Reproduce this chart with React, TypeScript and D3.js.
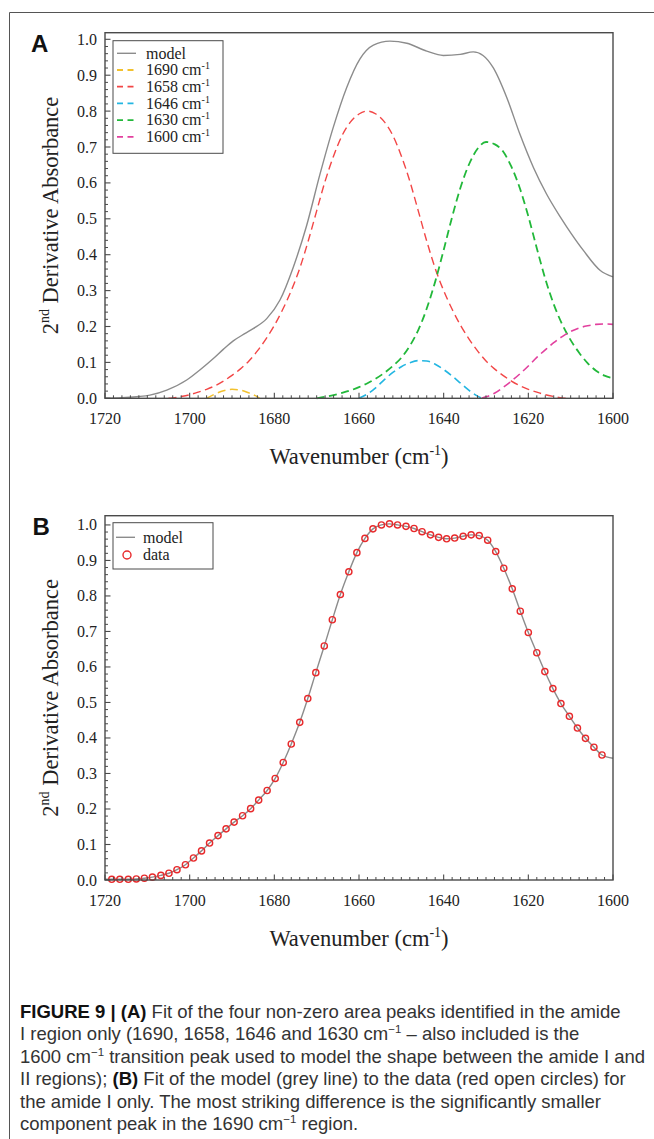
import React from 'react';
import * as d3 from 'd3';

type P = [number, number];

const X_TICKS = [1720, 1700, 1680, 1660, 1640, 1620, 1600];
const Y_TICKS = [0, 0.1, 0.2, 0.3, 0.4, 0.5, 0.6, 0.7, 0.8, 0.9, 1.0];

// Panel A: model and component peaks (wavenumber, value)
const modelA: P[] = [
  [1720, 0.0], [1716, 0.002], [1712, 0.005], [1709.4, 0.009], [1705.4, 0.023], [1700.7, 0.051],
  [1697.6, 0.079], [1694.4, 0.111], [1692, 0.137], [1689.7, 0.16], [1687, 0.18], [1685, 0.194],
  [1681.8, 0.222], [1678.7, 0.273], [1675.5, 0.366], [1672.4, 0.48], [1669.2, 0.625], [1666.1, 0.754],
  [1662.9, 0.866], [1659.8, 0.945], [1656.6, 0.984], [1652.7, 0.995], [1648.7, 0.989], [1644, 0.967],
  [1640.1, 0.955], [1636.1, 0.958], [1633, 0.965], [1630.7, 0.955], [1628.3, 0.921], [1625.1, 0.838],
  [1622, 0.736], [1618.8, 0.643], [1615.7, 0.569], [1612.5, 0.506], [1610.9, 0.477], [1607, 0.412],
  [1603, 0.356], [1600, 0.338],
];

const peak1690: P[] = [
  [1696, 0.0], [1694, 0.012], [1692, 0.021], [1690, 0.025], [1688, 0.023], [1686, 0.015], [1684, 0.004], [1683.5, 0.0],
];

const peak1658: P[] = [
  [1705, 0.0], [1704, 0.001], [1702, 0.005], [1700, 0.01], [1698, 0.017], [1696, 0.025], [1694, 0.035],
  [1692, 0.048], [1690, 0.064], [1688, 0.082], [1686, 0.104], [1684, 0.132], [1682, 0.165], [1680, 0.203],
  [1678, 0.248], [1676, 0.3], [1674, 0.362], [1672, 0.438], [1670, 0.522], [1668, 0.605], [1666, 0.675],
  [1664, 0.732], [1662, 0.77], [1660, 0.792], [1658, 0.8], [1656, 0.792], [1654, 0.77], [1652, 0.732],
  [1650, 0.675], [1648, 0.605], [1646, 0.522], [1644, 0.438], [1642, 0.362], [1640, 0.3], [1638, 0.248],
  [1636, 0.203], [1634, 0.165], [1632, 0.132], [1630, 0.104], [1628, 0.082], [1626, 0.064], [1624, 0.048],
  [1622, 0.035], [1620, 0.025], [1618, 0.017], [1616, 0.01], [1614, 0.005], [1612, 0.001], [1611, 0.0],
];

const peak1646: P[] = [
  [1660, 0.0], [1658, 0.012], [1656, 0.03], [1654, 0.052], [1652, 0.072], [1650, 0.088], [1648, 0.099],
  [1646, 0.105], [1644, 0.104], [1642, 0.095], [1640, 0.08], [1638, 0.062], [1636, 0.042], [1634, 0.022],
  [1632, 0.006], [1631, 0.0],
];

const peak1630: P[] = [
  [1670, 0.0], [1668, 0.004], [1666, 0.009], [1664, 0.015], [1662, 0.022], [1660, 0.031], [1658, 0.042],
  [1656, 0.055], [1654, 0.071], [1652, 0.09], [1650, 0.113], [1648, 0.146], [1646, 0.19], [1644, 0.25],
  [1642, 0.325], [1640, 0.413], [1638, 0.505], [1636, 0.588], [1634, 0.652], [1632, 0.695], [1630, 0.714],
  [1628, 0.708], [1626, 0.688], [1624, 0.645], [1622, 0.585], [1620, 0.507], [1618, 0.418], [1616, 0.333],
  [1614, 0.262], [1612, 0.206], [1610, 0.162], [1608, 0.127], [1606, 0.098], [1604, 0.077], [1602, 0.063],
  [1600, 0.056],
];

const peak1600: P[] = [
  [1631, 0.0], [1630, 0.004], [1628, 0.014], [1626, 0.03], [1624, 0.048], [1622, 0.068], [1620, 0.09],
  [1618, 0.114], [1616, 0.135], [1614, 0.155], [1612, 0.172], [1610, 0.186], [1608, 0.196], [1606, 0.202],
  [1604, 0.206], [1602, 0.207], [1600, 0.206],
];

// Panel B: measured data points and model
const dataWavenumbers = [
  1718.4, 1716.5, 1714.5, 1712.6, 1710.7, 1708.8, 1706.8, 1704.9, 1703.0, 1701.0, 1699.1, 1697.2,
  1695.3, 1693.3, 1691.4, 1689.5, 1687.5, 1685.6, 1683.7, 1681.7, 1679.8, 1677.9, 1676.0, 1674.0,
  1672.1, 1670.2, 1668.2, 1666.3, 1664.4, 1662.4, 1660.5, 1658.6, 1656.7, 1654.7, 1652.8, 1650.9,
  1648.9, 1647.0, 1645.1, 1643.1, 1641.2, 1639.3, 1637.4, 1635.4, 1633.5, 1631.6, 1629.6, 1627.7,
  1625.8, 1623.8, 1621.9, 1620.0, 1618.0, 1616.1, 1614.2, 1612.3, 1610.3, 1608.4, 1606.5, 1604.5,
  1602.6,
];
const dataValues = [
  0.002, 0.002, 0.002, 0.003, 0.005, 0.008, 0.013, 0.019, 0.029, 0.043, 0.062, 0.082,
  0.104, 0.125, 0.144, 0.163, 0.181, 0.201, 0.225, 0.252, 0.286, 0.331, 0.383, 0.444,
  0.511, 0.584, 0.659, 0.733, 0.804, 0.868, 0.922, 0.962, 0.989, 1.0, 1.003, 1.0,
  0.996, 0.99, 0.981, 0.972, 0.965, 0.961, 0.963, 0.968, 0.972, 0.97, 0.957, 0.925,
  0.878, 0.82, 0.757, 0.697, 0.64, 0.587, 0.539, 0.497, 0.461, 0.428, 0.399, 0.374,
  0.352,
];
const modelBStart: P = [1720, 0.002];
const modelBEnd: P = [1600, 0.343];

const legendA = [
  { label: '1690', color: '#f2c12e', data: peak1690, width: 1.5 },
  { label: '1658', color: '#f24646', data: peak1658, width: 1.4 },
  { label: '1646', color: '#23b6e2', data: peak1646, width: 1.6 },
  { label: '1630', color: '#22b83a', data: peak1630, width: 1.8 },
  { label: '1600', color: '#e2409e', data: peak1600, width: 1.6 },
];

const SERIF = "'Liberation Serif', 'Times New Roman', Times, serif";
const SANS = "'Liberation Sans', Arial, Helvetica, sans-serif";
const FRAME = '#4a4a4a';
const MODEL = '#8c8c8c';

const x = d3.scaleLinear().domain([1720, 1600]).range([105, 613]);
const yA = d3.scaleLinear().domain([0, 1.0184]).range([398.3, 32.7]);
const yB = d3.scaleLinear().domain([0, 1.026]).range([880, 515.7]);

function lineFor(y: d3.ScaleLinear<number, number>) {
  return d3
    .line<P>()
    .x((d) => x(d[0]))
    .y((d) => y(d[1]))
    .curve(d3.curveMonotoneX);
}

function Axes({ y, label }: { y: d3.ScaleLinear<number, number>; label: string }) {
  const [x0, x1] = x.range();
  const [yb, yt] = y.range();
  const minorX = d3.range(1600, 1721, 2).filter((v) => v % 20 !== 0);
  const minorY = d3.range(0, 101, 2).map((v) => v / 100).filter((v) => Math.round(v * 100) % 10 !== 0);
  return (
    <g>
      <rect x={x0} y={yt} width={x1 - x0} height={yb - yt} fill="none" stroke={FRAME} strokeWidth={1.4} />
      {minorX.map((v) => (
        <line key={'mx' + v} x1={x(v)} x2={x(v)} y1={yb} y2={yb - 3} stroke={FRAME} strokeWidth={1} />
      ))}
      {X_TICKS.map((v) => (
        <g key={'x' + v}>
          <line x1={x(v)} x2={x(v)} y1={yb} y2={yb - 5.5} stroke={FRAME} strokeWidth={1.1} />
          <text x={x(v)} y={yb + 25.7} textAnchor="middle" fontFamily={SERIF} fontSize={16} fill="#222">
            {v}
          </text>
        </g>
      ))}
      {minorY.map((v) => (
        <line key={'my' + v} x1={x0} x2={x0 + 3} y1={y(v)} y2={y(v)} stroke={FRAME} strokeWidth={1} />
      ))}
      {Y_TICKS.map((v) => (
        <g key={'y' + v}>
          <line x1={x0} x2={x0 + 5.5} y1={y(v)} y2={y(v)} stroke={FRAME} strokeWidth={1.1} />
          <text x={97} y={y(v) + 5.5} textAnchor="end" fontFamily={SERIF} fontSize={16} fill="#222">
            {v.toFixed(1)}
          </text>
        </g>
      ))}
      <text
        transform={`translate(58,${(yb + yt) / 2}) rotate(-90)`}
        textAnchor="middle"
        fontFamily={SERIF}
        fontSize={22.5}
        fill="#222"
      >
        2<tspan fontSize={14} dy={-9}>nd</tspan>
        <tspan dy={9}> Derivative Absorbance</tspan>
      </text>
      <text x={(x0 + x1) / 2} y={yb + 66} textAnchor="middle" fontFamily={SERIF} fontSize={22.5} fill="#222">
        Wavenumber (cm<tspan fontSize={14} dy={-9}>-1</tspan>
        <tspan dy={9}>)</tspan>
      </text>
      <text x={label === 'A' ? 31 : 32.5} y={yt + 19.5} fontFamily={SANS} fontWeight="bold" fontSize={24} fill="#111">
        {label}
      </text>
    </g>
  );
}

export default function App() {
  const lineA = lineFor(yA);
  const lineB = lineFor(yB);
  const dataB: P[] = dataWavenumbers.map((w, i) => [w, dataValues[i]]);
  const modelB: P[] = [modelBStart, ...dataB, modelBEnd];

  const capLines: React.ReactNode[] = [
    <>
      <tspan fontWeight="bold" fill="#111">FIGURE 9 | (A)</tspan> Fit of the four non-zero area peaks identified in the amide
    </>,
    <>
      I region only (1690, 1658, 1646 and 1630 cm<tspan fontSize={11.5} dy={-7}>−1</tspan>
      <tspan dy={7}> – also included is the</tspan>
    </>,
    <>
      1600 cm<tspan fontSize={11.5} dy={-7}>−1</tspan>
      <tspan dy={7}> transition peak used to model the shape between the amide I and</tspan>
    </>,
    <>
      II regions); <tspan fontWeight="bold" fill="#111">(B)</tspan> Fit of the model (grey line) to the data (red open circles) for
    </>,
    <>the amide I only. The most striking difference is the significantly smaller</>,
    <>
      component peak in the 1690 cm<tspan fontSize={11.5} dy={-7}>−1</tspan>
      <tspan dy={7}> region.</tspan>
    </>,
  ];

  return (
    <svg
      width={654}
      height={1139}
      viewBox="0 0 654 1139"
      style={{ position: 'absolute', left: 0, top: 0, background: '#fff' }}
    >
      <rect x={0} y={0} width={654} height={1139} fill="#fff" />
      <line x1={9.5} x2={654} y1={12.5} y2={12.5} stroke="#555" strokeWidth={1} />
      <line x1={9.5} x2={9.5} y1={12.5} y2={1139} stroke="#555" strokeWidth={1} />

      {/* Panel A */}
      <g>
        {legendA.map((s) => (
          <path
            key={s.label}
            d={lineA(s.data) || ''}
            fill="none"
            stroke={s.color}
            strokeWidth={s.width}
            strokeDasharray="8,4.5"
          />
        ))}
        <path d={lineA(modelA) || ''} fill="none" stroke={MODEL} strokeWidth={1.4} />
        <Axes y={yA} label="A" />
        <rect x={113} y={40.7} width={110} height={112.6} fill="#fff" stroke={FRAME} strokeWidth={1} />
        <line x1={117} x2={136} y1={53.3} y2={53.3} stroke={MODEL} strokeWidth={1.4} />
        <text x={146} y={58.5} fontFamily={SERIF} fontSize={16} fill="#222">model</text>
        {legendA.map((s, i) => {
          const yy = 70 + i * 16.7;
          return (
            <g key={'lg' + s.label}>
              <line x1={117} x2={137} y1={yy} y2={yy} stroke={s.color} strokeWidth={1.8} strokeDasharray="6,4.5" />
              <text x={146} y={yy + 5.2} fontFamily={SERIF} fontSize={16} fill="#222">
                {s.label} cm<tspan fontSize={10} dy={-6}>-1</tspan>
              </text>
            </g>
          );
        })}
      </g>

      {/* Panel B */}
      <g>
        <path d={lineB(modelB) || ''} fill="none" stroke={MODEL} strokeWidth={1.4} />
        {dataB.map((d, i) => (
          <circle key={'c' + i} cx={x(d[0])} cy={yB(d[1])} r={3.1} fill="none" stroke="#e8292b" strokeWidth={1.4} />
        ))}
        <Axes y={yB} label="B" />
        <rect x={113} y={522.7} width={100} height={46.3} fill="#fff" stroke={FRAME} strokeWidth={1} />
        <line x1={116} x2={135} y1={537.3} y2={537.3} stroke={MODEL} strokeWidth={1.4} />
        <text x={143} y={542.5} fontFamily={SERIF} fontSize={16} fill="#222">model</text>
        <circle cx={127} cy={555} r={4} fill="none" stroke="#e8292b" strokeWidth={1.4} />
        <text x={143} y={560.2} fontFamily={SERIF} fontSize={16} fill="#222">data</text>
      </g>

      {/* Caption */}
      <g fontFamily={SANS} fontSize={18.5} fill="#333">
        {capLines.map((c, i) => (
          <text key={'cap' + i} x={20} y={1018 + i * 22.4}>
            {c}
          </text>
        ))}
      </g>
    </svg>
  );
}
